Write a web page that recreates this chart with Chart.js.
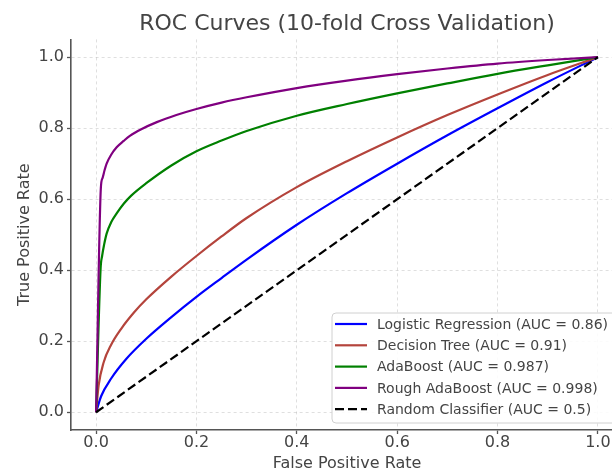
<!DOCTYPE html>
<html>
<head>
<meta charset="utf-8">
<script src="https://cdn.jsdelivr.net/npm/chart.js@4.4.0/dist/chart.umd.min.js"></script>
<style>
  html, body { margin: 0; padding: 0; background: #fff; overflow: hidden; }
  #wrap { width: 630px; height: 473px; }
</style>
</head>
<body>
<div id="wrap"><canvas id="roc"></canvas></div>
<script>
// ── data ───────────────────────────────────────────────────────────────────
const xTicks = [0, 0.2, 0.4, 0.6, 0.8, 1.0]
const yTicks = [0, 0.2, 0.4, 0.6, 0.8, 1.0]

const seriesLabels = [
  "Logistic Regression (AUC = 0.86)",
  "Decision Tree (AUC = 0.91)",
  "AdaBoost (AUC = 0.987)",
  "Rough AdaBoost (AUC = 0.998)",
  "Random Classifier (AUC = 0.5)"
]

const lrFpr = [0, 0.01, 0.03, 0.06, 0.1, 0.15, 0.2, 0.25, 0.3, 0.4, 0.5, 0.6, 0.7, 0.8, 0.9, 1]
const lrTpr = [0, 0.045, 0.095, 0.15, 0.207, 0.268, 0.325, 0.378, 0.43, 0.528, 0.617, 0.7, 0.78, 0.856, 0.93, 1]

const dtFpr = [0, 0.005, 0.015, 0.03, 0.05, 0.075, 0.1, 0.15, 0.2, 0.25, 0.3, 0.4, 0.5, 0.6, 0.7, 0.8, 0.9, 1]
const dtTpr = [0, 0.075, 0.14, 0.19, 0.235, 0.28, 0.318, 0.382, 0.44, 0.495, 0.547, 0.634, 0.707, 0.774, 0.837, 0.895, 0.95, 1]

const abFpr = [0, 0.009, 0.012, 0.016, 0.021, 0.03, 0.041, 0.055, 0.07, 0.1, 0.15, 0.2, 0.25, 0.3, 0.4, 0.5, 0.6, 0.7, 0.8, 0.9, 1]
const abTpr = [0, 0.405, 0.44, 0.472, 0.503, 0.535, 0.56, 0.587, 0.61, 0.645, 0.695, 0.735, 0.765, 0.792, 0.835, 0.868, 0.898, 0.926, 0.953, 0.977, 1]

const rabFpr = [0, 0.0095, 0.013, 0.017, 0.021, 0.03, 0.041, 0.055, 0.068, 0.09, 0.121, 0.16, 0.2, 0.25, 0.3, 0.4, 0.5, 0.6, 0.7, 0.8, 0.9, 1]
const rabTpr = [0, 0.632, 0.66, 0.682, 0.70, 0.725, 0.746, 0.764, 0.779, 0.797, 0.817, 0.837, 0.854, 0.872, 0.887, 0.913, 0.934, 0.952, 0.968, 0.982, 0.992, 1]

const randFpr = [0, 1]
const randTpr = [0, 1]

// ── helpers ────────────────────────────────────────────────────────────────
const FONT = "'DejaVu Sans', sans-serif"
const TEXT = "#444"
const SPINE = "#555"

const pts = (xs, ys) => xs.map((x, i) => ({ x, y: ys[i] }))

const curve = (label, data, color, order) => ({
  label,
  data,
  borderColor: color,
  borderWidth: 2.2,
  pointRadius: 0,
  fill: false,
  cubicInterpolationMode: "monotone",
  order
})

// legend drawn inside the plot, lower right, like matplotlib
const insideLegend = {
  id: "insideLegend",
  afterDatasetsDraw(chart) {
    const { ctx, chartArea } = chart
    const sets = chart.data.datasets
    const w = 284, h = 110, rowH = 21.3
    const x0 = chartArea.right - 7 - w
    const y0 = chartArea.bottom - 7 - h

    ctx.save()
    ctx.beginPath()
    ctx.roundRect(x0, y0, w, h, 4)
    ctx.fillStyle = "rgba(255,255,255,0.85)"
    ctx.fill()
    ctx.strokeStyle = "#d0d0d0"
    ctx.lineWidth = 1
    ctx.stroke()

    ctx.font = "14px " + FONT
    ctx.textBaseline = "middle"
    ctx.textAlign = "left"
    sets.forEach((ds, i) => {
      const cy = y0 + 11 + i * rowH
      ctx.beginPath()
      ctx.setLineDash(ds.borderDash || [])
      ctx.strokeStyle = ds.borderColor
      ctx.lineWidth = ds.borderWidth
      ctx.moveTo(x0 + 3, cy)
      ctx.lineTo(x0 + 35, cy)
      ctx.stroke()
      ctx.setLineDash([])
      ctx.fillStyle = TEXT
      ctx.fillText(ds.label, x0 + 45, cy + 1)
    })
    ctx.restore()
  }
}

const axis = (ticksArr, title, fit, titlePad, tickPad) => ({
  type: "linear",
  min: -0.05,
  max: 1.05,
  afterBuildTicks: s => { s.ticks = ticksArr.map(v => ({ value: v })) },
  afterFit: fit,
  ticks: {
    callback: v => Number(v).toFixed(1),
    font: { family: FONT, size: 16 },
    color: TEXT,
    padding: tickPad,
    maxRotation: 0,
    autoSkip: false
  },
  grid: {
    color: "rgba(0,0,0,0.16)",
    lineWidth: 0.8,
    tickColor: SPINE,
    tickLength: 4,
    tickWidth: 1.3,
    tickBorderDash: []
  },
  border: { display: true, color: SPINE, width: 1.6, dash: [3, 3] },
  title: {
    display: true,
    text: title,
    font: { family: FONT, size: 16 },
    color: TEXT,
    padding: titlePad
  }
})

new Chart(document.getElementById("roc"), {
  type: "line",
  data: {
    datasets: [
      curve(seriesLabels[0], pts(lrFpr, lrTpr), "#0000ff", 5),
      curve(seriesLabels[1], pts(dtFpr, dtTpr), "#b4443c", 4),
      curve(seriesLabels[2], pts(abFpr, abTpr), "#008000", 3),
      curve(seriesLabels[3], pts(rabFpr, rabTpr), "#800080", 2),
      {
        label: seriesLabels[4],
        data: pts(randFpr, randTpr),
        borderColor: "#000",
        borderWidth: 2.2,
        borderDash: [9, 4],
        pointRadius: 0,
        fill: false,
        tension: 0,
        order: 1
      }
    ]
  },
  options: {
    responsive: true,
    maintainAspectRatio: false,
    animation: false,
    layout: { padding: { left: 0, right: 7, top: 0, bottom: 0 } },
    plugins: {
      legend: { display: false },
      tooltip: { enabled: false },
      title: {
        display: true,
        text: "ROC Curves (10-fold Cross Validation)",
        fullSize: false,
        color: TEXT,
        font: { family: FONT, size: 22, weight: "normal" },
        padding: { top: 11, bottom: 2 }
      }
    },
    scales: {
      x: axis(xTicks, "False Positive Rate", s => { s.height = 43 }, { top: 0, bottom: 0 }, -1),
      y: axis(yTicks, "True Positive Rate", s => { s.width = 71 }, { top: 15, bottom: 0 }, 3)
    }
  },
  plugins: [insideLegend]
})
</script>
</body>
</html>
